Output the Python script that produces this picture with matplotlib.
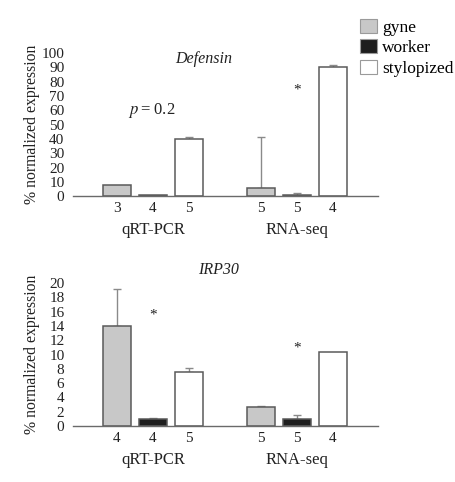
import matplotlib
matplotlib.use("Agg")
import matplotlib.pyplot as plt
from matplotlib.patches import Patch
from matplotlib.transforms import blended_transform_factory

plt.rcParams['font.family'] = ['Liberation Serif', 'DejaVu Serif']
plt.rcParams['mathtext.fontset'] = 'stix'

categories = ['gyne', 'worker', 'stylopized']
groups = ['qRT-PCR', 'RNA-seq']
colors = ['#c8c8c8', '#1e1e1e', '#ffffff']

def_vals = [8.0, 0.5, 40.0, 5.5, 0.5, 90.0]
def_errs = [0.0, 0.0, 1.0, 35.5, 1.5, 1.5]
def_n = ['3', '4', '5', '5', '5', '4']

irp_vals = [14.0, 1.0, 7.6, 2.7, 1.0, 10.4]
irp_errs = [5.2, 0.1, 0.5, 0.1, 0.5, 0.0]
irp_n = ['4', '4', '5', '5', '5', '4']

positions = [0, 1, 2, 4, 5, 6]
group_centers = [1, 5]

fig = plt.figure(figsize=(4.55, 4.82), dpi=100)
ax1 = fig.add_axes([0.160, 0.593, 0.671, 0.297])
ax2 = fig.add_axes([0.160, 0.116, 0.671, 0.297])

TXT = '#222222'

def draw(ax, vals, errs, ns, ymax, step, title, title_y):
    cols = [colors[i % 3] for i in range(len(vals))]
    ax.bar(positions, vals, width=0.78, color=cols, edgecolor='#5a5a5a',
           linewidth=1.1, zorder=2)
    for x, v, e in zip(positions, vals, errs):
        if e > 0:
            ax.errorbar([x], [v], yerr=[[0], [e]], fmt='none', ecolor='#8a8a8a',
                        elinewidth=1.0, capsize=3, capthick=1.0, zorder=1)
    ax.set_xlim(-1.22, 7.25)
    ax.set_ylim(0, ymax)
    ax.set_yticks(range(0, ymax + 1, step))
    ax.set_xticks(positions)
    ax.set_xticklabels(ns)
    ax.tick_params(axis='both', length=0, labelsize=11, colors=TXT)
    ax.tick_params(axis='x', pad=4)
    ax.tick_params(axis='y', pad=6)
    for s in ['top', 'right', 'left']:
        ax.spines[s].set_visible(False)
    ax.spines['bottom'].set_color('#6a6a6a')
    ax.spines['bottom'].set_linewidth(1.0)
    ax.set_ylabel('% normalized expression', fontsize=11.3, color=TXT)
    ax.yaxis.set_label_coords(-0.107, 0.5)
    tr = blended_transform_factory(ax.transData, ax.transAxes)
    for gx, g in zip(group_centers, groups):
        ax.text(gx, -0.235, g, transform=tr, ha='center', va='center',
                fontsize=12, color=TXT)
    ax.text(title[1], title_y, title[0], transform=tr, ha='center', va='center',
            fontsize=11.5, style='italic', color=TXT)

draw(ax1, def_vals, def_errs, def_n, 100, 10, ('Defensin', 2.42), 0.96)
draw(ax2, irp_vals, irp_errs, irp_n, 20, 2, ('IRP30', 2.81), 1.09)

ax1.text(0.97, 59.5, r'$p$' + '\u2009=\u20090.2', ha='center', va='center',
         fontsize=12, color=TXT)
ax1.text(5.0, 74, '*', ha='center', va='center', fontsize=11, color=TXT)
ax2.text(1.0, 15.5, '*', ha='center', va='center', fontsize=11, color=TXT)
ax2.text(5.0, 10.9, '*', ha='center', va='center', fontsize=11, color=TXT)

handles = [Patch(facecolor=c, edgecolor='#9a9a9a', linewidth=0.8) for c in colors]
fig.legend(handles, categories, loc='upper left',
           bbox_to_anchor=(353 / 455, 1 - 12 / 482), frameon=False,
           handlelength=0.98, handleheight=0.86, handletextpad=0.3,
           labelspacing=0.2, fontsize=12.5, borderaxespad=0)

fig.savefig('out.png', dpi=100)
